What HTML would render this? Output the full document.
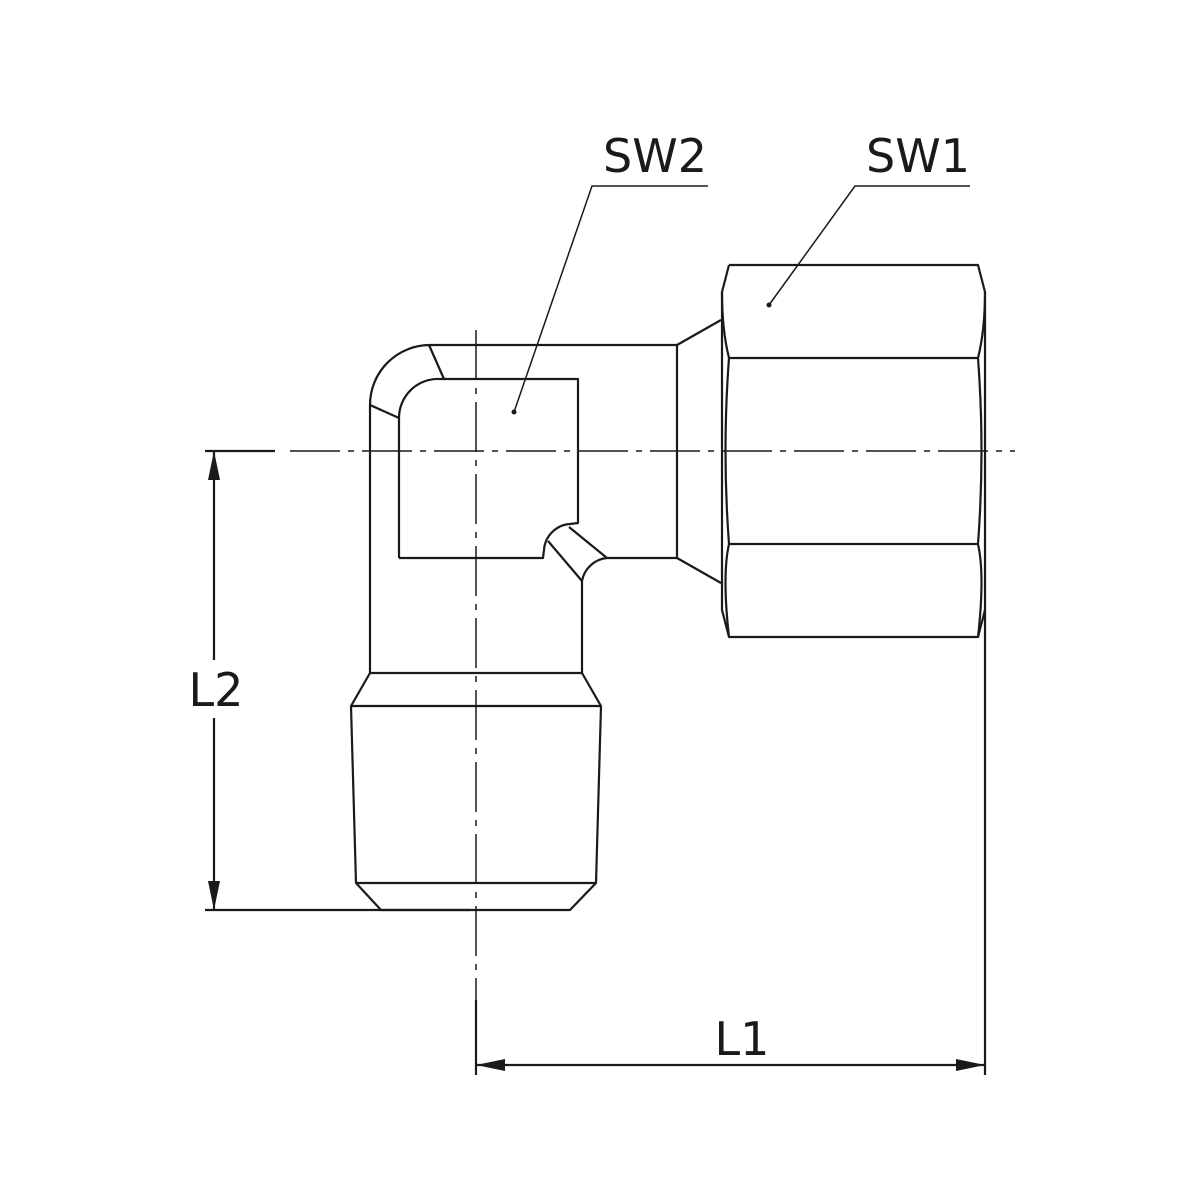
<!DOCTYPE html>
<html><head><style>html,body{margin:0;padding:0;background:#fff}svg{display:block}</style></head>
<body>
<svg width="1200" height="1200" viewBox="0 0 1200 1200" xmlns="http://www.w3.org/2000/svg">
<g fill="none" stroke="#1a1a1a" stroke-width="2.2" stroke-linejoin="round">
<path d="M370 673 L370 405 A60 60 0 0 1 430 345 L677 345"/>
<path d="M429 345 L444 379"/>
<path d="M370 405 L399 418"/>
<path d="M399 558 L399 418 A39 39 0 0 1 440 379 L578 379 L578 523 L570 524 A28 28 0 0 0 544 550 L543 558 L399 558"/>
<path d="M548 541 L582 581"/>
<path d="M569 527 L607 558"/>
<path d="M582 673 L582 581 A28 28 0 0 1 607 558 L677 558"/>
<path d="M677 345 L677 558"/>
<path d="M677 345 L721 320"/>
<path d="M677 558 L721 583"/>
<path d="M729 265 L978 265 L985 292 L985 637"/>
<path d="M729 265 L722 292 L722 610 L729 637 L978 637 L985 610"/>
<path d="M729 358 L978 358"/>
<path d="M729 544 L978 544"/>
<path d="M722 292 Q722 330 729 358 Q722 451 729 544 Q722 575 729 637"/>
<path d="M985 292 Q985 330 978 358 Q985 451 978 544 Q985 575 978 637"/>
<path d="M370 673 L582 673"/>
<path d="M370 673 L351 706 L356 883 L381 910 L570 910 L596 883 L601 706 L582 673"/>
<path d="M351 706 L601 706"/>
<path d="M356 883 L596 883"/>
</g>
<g fill="none" stroke="#1a1a1a" stroke-width="1.5">
<path d="M290 451 L1015 451" stroke-dasharray="50 8 6 8"/>
<path d="M476 330 L476 1075" stroke-dasharray="50 8 6 8"/>
<path d="M708 186 L592 186 L514 412"/>
<path d="M970 186 L855 186 L769 305"/>
</g>
<circle cx="514" cy="412" r="2.5" fill="#1a1a1a"/>
<circle cx="769" cy="305" r="2.5" fill="#1a1a1a"/>
<g stroke="#1a1a1a" stroke-width="2.2" fill="none">
<path d="M205 451 L275 451"/>
<path d="M205 910 L470 910"/>
<path d="M214 451 L214 660"/>
<path d="M214 718 L214 910"/>
<path d="M476 1000 L476 1075"/>
<path d="M985 637 L985 1075"/>
<path d="M476 1065 L985 1065"/>
</g>
<g fill="#1a1a1a">
<path d="M214 451 L208 480 L220 480 Z"/>
<path d="M214 910 L208 881 L220 881 Z"/>
<path d="M476 1065 L505 1059 L505 1071 Z"/>
<path d="M985 1065 L956 1059 L956 1071 Z"/>
</g>
<g font-family="'DejaVu Sans','Liberation Sans',sans-serif" font-size="46" fill="#1a1a1a" text-anchor="middle">
<text x="655" y="172">SW2</text>
<text x="918" y="172">SW1</text>
<text x="216" y="706">L2</text>
<text x="742" y="1055">L1</text>
</g>
</svg>
</body></html>
